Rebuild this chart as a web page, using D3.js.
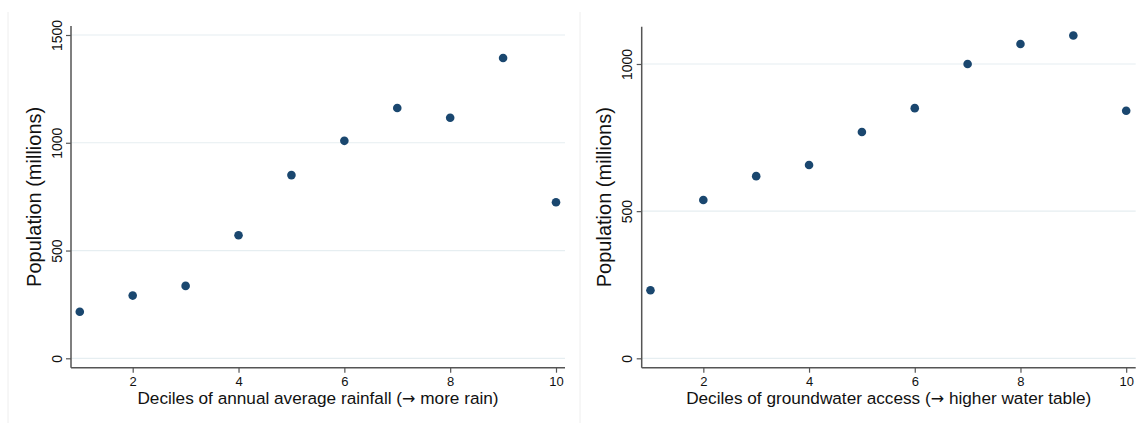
<!DOCTYPE html>
<html><head><meta charset="utf-8">
<script src="https://cdn.jsdelivr.net/npm/d3@7"></script>
<style>
html,body{margin:0;padding:0;background:#fff;}
svg{display:block;font-family:"Liberation Sans",Arial,sans-serif;}
</style></head>
<body>
<svg id="chart" width="1140" height="423"></svg>
<script>
// Data
const deciles = [1,2,3,4,5,6,7,8,9,10];
const rainfallPop = [216,291,336,571,850,1009,1161,1116,1393,724];
const groundwaterPop = [231,538,619,657,769,850,1000,1068,1097,841];
const xTicks = [2,4,6,8,10];
const yTicksLeft = [0,500,1000,1500];
const yTicksRight = [0,500,1000];
const xTitleLeft = ["Deciles of annual average rainfall (", "\u2192", " more rain)"];
const xTitleRight = ["Deciles of groundwater access (", "\u2192", " higher water table)"];
const yTitle = "Population (millions)";

const svg = d3.select("#chart");
const FONT = "Liberation Sans, Arial, sans-serif";

function panel(cfg){
  const g = svg.append("g");
  // faint panel border
  g.append("line").attr("x1",cfg.border).attr("x2",cfg.border).attr("y1",12).attr("y2",423)
    .attr("stroke","#eeeeee").attr("stroke-width",1);
  const x = d3.scaleLinear().domain(cfg.xDom).range([cfg.left,cfg.right]);
  const y = d3.scaleLinear().domain(cfg.yDom).range([cfg.bottom,cfg.top]);
  // gridlines
  g.selectAll(".grid").data(cfg.yTicks).enter().append("line")
    .attr("x1",cfg.left).attr("x2",cfg.right)
    .attr("y1",d=>y(d)).attr("y2",d=>y(d))
    .attr("stroke","#e6eef1").attr("stroke-width",1.2);
  // y axis
  const ya = g.append("g").attr("transform",`translate(${cfg.left},0)`)
    .call(d3.axisLeft(y).tickValues(cfg.yTicks).tickSize(5).tickSizeOuter(0).tickPadding(5).tickFormat(d3.format("d")));
  ya.select(".domain").remove();
  ya.append("line").attr("x1",0).attr("x2",0).attr("y1",cfg.top).attr("y2",cfg.bottom)
    .attr("stroke","#555").attr("stroke-width",1.5);
  ya.selectAll(".tick line").attr("stroke","#555").attr("stroke-width",1.2);
  ya.selectAll(".tick text")
    .style("font-size","14px").style("font-family",FONT).attr("fill","#111")
    .attr("x",null).attr("dy",null)
    .attr("text-anchor","middle")
    .attr("transform","translate(-9.5,0) rotate(-90)");
  // x axis
  const xa = g.append("g").attr("transform",`translate(0,${cfg.bottom})`)
    .call(d3.axisBottom(x).tickValues(xTicks).tickSize(5).tickSizeOuter(0).tickPadding(4).tickFormat(d3.format("d")));
  xa.select(".domain").remove();
  xa.append("line").attr("x1",cfg.left).attr("x2",cfg.right).attr("y1",0).attr("y2",0)
    .attr("stroke","#555").attr("stroke-width",1.5);
  xa.selectAll(".tick line").attr("stroke","#555").attr("stroke-width",1.2);
  xa.selectAll(".tick text").style("font-size","13px").style("font-family",FONT).attr("fill","#111");
  // points
  g.selectAll(".pt").data(deciles).enter().append("circle")
    .attr("cx",d=>x(d)).attr("cy",(d,i)=>y(cfg.values[i])).attr("r",4.3)
    .attr("fill","#1a476f");
  // titles
  const xt = g.append("text").attr("x",(cfg.left+cfg.right)/2).attr("y",404)
    .attr("text-anchor","middle").style("font-size","17.2px").style("font-family",FONT)
    .attr("fill","#111");
  xt.selectAll("tspan").data(cfg.xTitle).enter().append("tspan")
    .style("font-family",(d,i)=> i===1 ? "DejaVu Sans, sans-serif" : FONT)
    .style("font-size",(d,i)=> i===1 ? "16px" : "17.2px")
    .text(d=>d);
  g.append("text").attr("transform",`translate(${cfg.left-30.3},${(cfg.top+cfg.bottom)/2}) rotate(-90)`)
    .attr("text-anchor","middle").style("font-size","20px").style("font-family",FONT)
    .attr("fill","#111").text(yTitle);
}

panel({border:8,left:71,right:565,top:26,bottom:367.7,
  xDom:[0.834,10.17], yDom:[-43.6,1541.8], yTicks:yTicksLeft,
  values:rainfallPop, xTitle:xTitleLeft});
panel({border:580,left:641.7,right:1135.7,top:26.7,bottom:367.7,
  xDom:[0.834,10.18], yDom:[-31.9,1126.7], yTicks:yTicksRight,
  values:groundwaterPop, xTitle:xTitleRight});
</script>
</body></html>
